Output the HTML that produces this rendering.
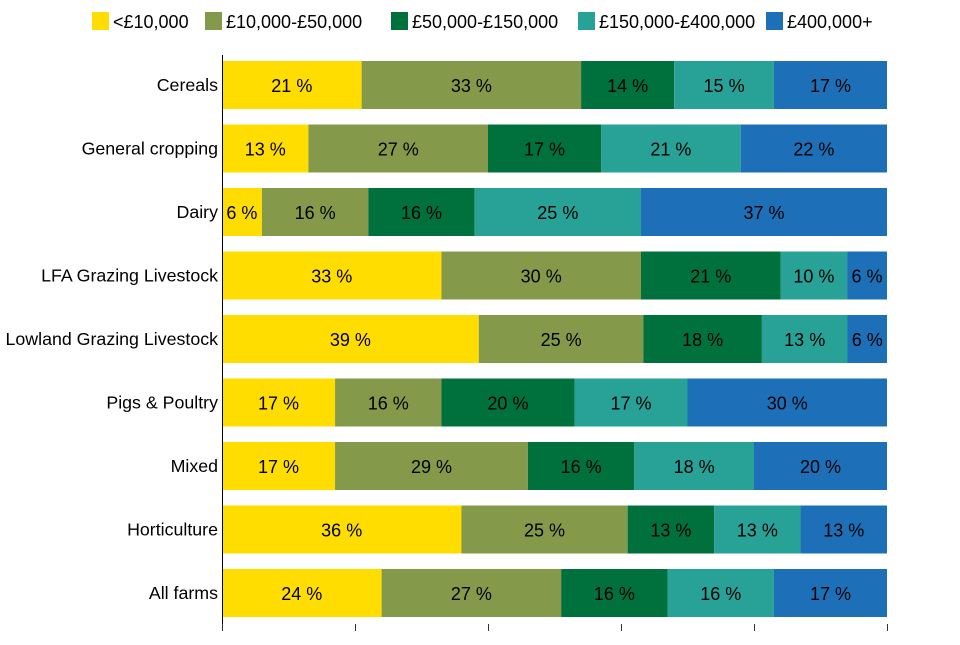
<!DOCTYPE html>
<html><head><meta charset="utf-8"><style>
body{margin:0;background:#fff;font-family:"Liberation Sans",sans-serif;}
svg text{font-family:"Liberation Sans",sans-serif;}
</style></head><body>
<svg id="chart" width="960" height="640" xmlns="http://www.w3.org/2000/svg"></svg>
<script>
const categories=["Cereals","General cropping","Dairy","LFA Grazing Livestock","Lowland Grazing Livestock","Pigs & Poultry","Mixed","Horticulture","All farms"];
const seriesNames=["<£10,000","£10,000-£50,000","£50,000-£150,000","£150,000-£400,000","£400,000+"];
const s1=[21,13,6,33,39,17,17,36,24];
const s2=[33,27,16,30,25,16,29,25,27];
const s3=[14,17,16,21,18,20,16,13,16];
const s4=[15,21,25,10,13,17,18,13,16];
const s5=[17,22,37,6,6,30,20,13,17];
const series=[s1,s2,s3,s4,s5];
const colors=["#FFDD00","#85994B","#00703C","#28A197","#1D70B8"];
const NS="http://www.w3.org/2000/svg";
const svg=document.getElementById("chart");
const x0=222,x1=887,yTop=54,rowH=63.5,barH=48;
const xs=v=>x0+(x1-x0)*v/100;
const yc=i=>yTop+rowH*i+31;
function el(t,a){const e=document.createElementNS(NS,t);for(const k in a)e.setAttribute(k,a[k]);svg.appendChild(e);return e;}
const legX=[92,205,391,578,766];
seriesNames.forEach((n,j)=>{
  const r=el("rect",{x:legX[j],y:12,width:17,height:18,fill:colors[j]});
  
  
  const t=el("text",{x:legX[j]+21,y:28,"font-size":18,fill:"#000"});
  t.textContent=n;
  
  
});
categories.forEach((c,i)=>{
  let tot=0;series.forEach(s=>tot+=s[i]);
  let acc=0;
  series.forEach((s,j)=>{
    const v=s[i]*100/tot;
    const xa=xs(acc),xb=xs(acc+v);
    const r=el("rect",{x:xa,y:yc(i)-barH/2,width:xb-xa,height:barH,fill:colors[j]});
    
    
    const t=el("text",{x:(xa+xb)/2,y:yc(i)+7,"font-size":18,"text-anchor":"middle",fill:"#000"});
    t.textContent=s[i]+" %";
    
    
    acc+=v;
  });
  const l=el("text",{x:218,y:yc(i)+6,"font-size":17.8,"text-anchor":"end",fill:"#000"});
  l.textContent=c;
  
  
});
const ax=el("line",{x1:222.5,y1:55,x2:222.5,y2:631,stroke:"#000","stroke-width":1});


[0,20,40,60,80,100].forEach(v=>{
  const tk=el("line",{x1:xs(v)+0.5,y1:624,x2:xs(v)+0.5,y2:631,stroke:"#333","stroke-width":1});
  
  
});
</script>
</body></html>
